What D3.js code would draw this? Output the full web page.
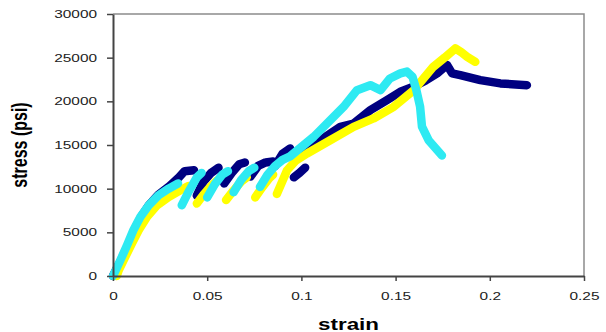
<!DOCTYPE html>
<html>
<head>
<meta charset="utf-8">
<script src="https://cdn.jsdelivr.net/npm/d3@7"></script>
<style>
  body { margin: 0; background: #fff; }
  svg { display: block; }
</style>
</head>
<body>
<div id="chart"></div>
<script>
// tick labels
const xTicks = [0, 0.05, 0.1, 0.15, 0.2, 0.25];
const yTicks = [0, 5000, 10000, 15000, 20000, 25000, 30000];

// [strain, stress] points, null = break between loading segments
const navyPoints = [
  [0, 0], [0.004, 1700], [0.008, 3500], [0.011, 5100], [0.015, 6800], [0.019, 8100],
  [0.024, 9300], [0.030, 10300], [0.035, 11300], [0.038, 12000], [0.043, 12100],
  null,
  [0.0445, 9200], [0.048, 10800], [0.052, 11800], [0.056, 12400],
  null,
  [0.059, 10600], [0.063, 11800], [0.067, 12800], [0.070, 13000],
  null,
  [0.073, 11400], [0.077, 12600], [0.081, 13000], [0.085, 13100],
  null,
  [0.086, 12600], [0.090, 14000], [0.094, 14600],
  null,
  [0.096, 11300], [0.099, 11800], [0.102, 12400],
  null,
  [0.100, 14500], [0.110, 15550], [0.1207, 17080], [0.1277, 17460], [0.1366, 18990],
  [0.1454, 20130], [0.1525, 21090], [0.1594, 21660], [0.166, 22400], [0.172, 23200],
  [0.1773, 24150], [0.180, 23200], [0.1843, 23000], [0.195, 22430], [0.2056, 22050],
  [0.2197, 21850]
];

const yellowPoints = [
  [0.002, 0], [0.003, 650], [0.0065, 2180], [0.010, 3700], [0.0136, 5240], [0.018, 6760],
  [0.0234, 8100], [0.0295, 9050], [0.0357, 9820], [0.040, 10300],
  null,
  [0.0445, 8300], [0.048, 9300], [0.052, 10300], [0.055, 10900],
  null,
  [0.060, 8700], [0.064, 9800], [0.068, 10800], [0.071, 11300],
  null,
  [0.0755, 9000], [0.079, 10100], [0.083, 11200], [0.085, 11600],
  null,
  [0.087, 9400], [0.0924, 12110], [0.097, 13200], [0.103, 14030], [0.1153, 15550],
  [0.1277, 17080], [0.1383, 18040], [0.149, 19370], [0.1596, 21280], [0.170, 23950],
  [0.176, 25000], [0.1817, 26060], [0.185, 25600], [0.188, 25100], [0.1923, 24520]
];

const cyanPoints = [
  [0, 0], [0.0039, 1800], [0.0074, 3500], [0.0108, 5240], [0.0145, 6760], [0.019, 8100],
  [0.0242, 9250], [0.0295, 10000], [0.0345, 10600],
  null,
  [0.0365, 8100], [0.040, 9600], [0.0445, 11300], [0.047, 11800],
  null,
  [0.050, 9000], [0.054, 10500], [0.058, 11600], [0.061, 12000],
  null,
  [0.064, 9600], [0.068, 11000], [0.072, 12000], [0.075, 12400],
  null,
  [0.078, 10200], [0.082, 11600], [0.086, 12600], [0.090, 13300], [0.094, 13700],
  [0.1065, 15930], [0.1153, 17840], [0.1224, 19370], [0.1295, 21280], [0.1366, 21850],
  [0.142, 21280], [0.147, 22620], [0.1525, 23200], [0.156, 23400], [0.159, 22800],
  [0.161, 21300], [0.163, 19400], [0.164, 17100], [0.1675, 15550], [0.1746, 13800]
];

const series = [
  { points: navyPoints, color: '#000080' },
  { points: yellowPoints, color: '#ffff00' },
  { points: cyanPoints, color: '#2eeaf2' }
];

const W = 606, H = 332;
const margin = { top: 14, right: 22, bottom: 56, left: 113 };
const width = W - margin.left - margin.right;
const height = H - margin.top - margin.bottom;
const stretch = 1.4; // reference text is drawn wide

const svg = d3.select('#chart').append('svg')
  .attr('width', W)
  .attr('height', H);

const g = svg.append('g')
  .attr('transform', `translate(${margin.left},${margin.top})`);

const x = d3.scaleLinear().domain([0, 0.25]).range([0, width]);
const y = d3.scaleLinear().domain([0, 30000]).range([height, 0]);

// plot frame (top and right)
g.append('path')
  .attr('d', `M0,0H${width}V${height}`)
  .attr('fill', 'none')
  .attr('stroke', '#8c8c8c')
  .attr('stroke-width', 1.5);

const line = d3.line()
  .defined(d => d !== null)
  .x(d => x(d[0]))
  .y(d => y(d[1]));

series.forEach(s => {
  g.append('path')
    .datum(s.points)
    .attr('d', line)
    .attr('fill', 'none')
    .attr('stroke', s.color)
    .attr('stroke-width', 8.5)
    .attr('stroke-linecap', 'round')
    .attr('stroke-linejoin', 'round');
});

const xAxis = g.append('g')
  .attr('transform', `translate(0,${height})`)
  .call(d3.axisBottom(x).tickValues(xTicks).tickSize(5).tickSizeOuter(0).tickPadding(11)
    .tickFormat(d3.format('')));

const yAxis = g.append('g')
  .call(d3.axisLeft(y).tickValues(yTicks).tickSize(6).tickSizeOuter(0)
    .tickFormat(d3.format('d')));

[xAxis, yAxis].forEach(a => {
  a.select('.domain').attr('stroke', '#444').attr('stroke-width', 2);
  a.selectAll('.tick line').attr('stroke', '#444').attr('stroke-width', 1.5);
  a.selectAll('.tick text')
    .attr('font-family', 'Liberation Sans, Arial, sans-serif')
    .attr('font-size', 11)
    .attr('fill', '#222');
});

xAxis.selectAll('.tick text').attr('transform', `scale(${stretch},1)`);
yAxis.selectAll('.tick text')
  .attr('x', -16 / stretch)
  .attr('transform', `scale(${stretch},1)`);

// axis titles
svg.append('text')
  .attr('transform', `translate(${margin.left + width / 2},330) scale(${stretch},1)`)
  .attr('text-anchor', 'middle')
  .attr('font-family', 'Liberation Sans, Arial, sans-serif')
  .attr('font-weight', 'bold')
  .attr('font-size', 16)
  .text('strain');

svg.append('text')
  .attr('transform', `translate(27,145) rotate(-90) scale(1,${stretch})`)
  .attr('text-anchor', 'middle')
  .attr('font-family', 'Liberation Sans, Arial, sans-serif')
  .attr('font-weight', 'bold')
  .attr('font-size', 16)
  .text('stress (psi)');
</script>
</body>
</html>
